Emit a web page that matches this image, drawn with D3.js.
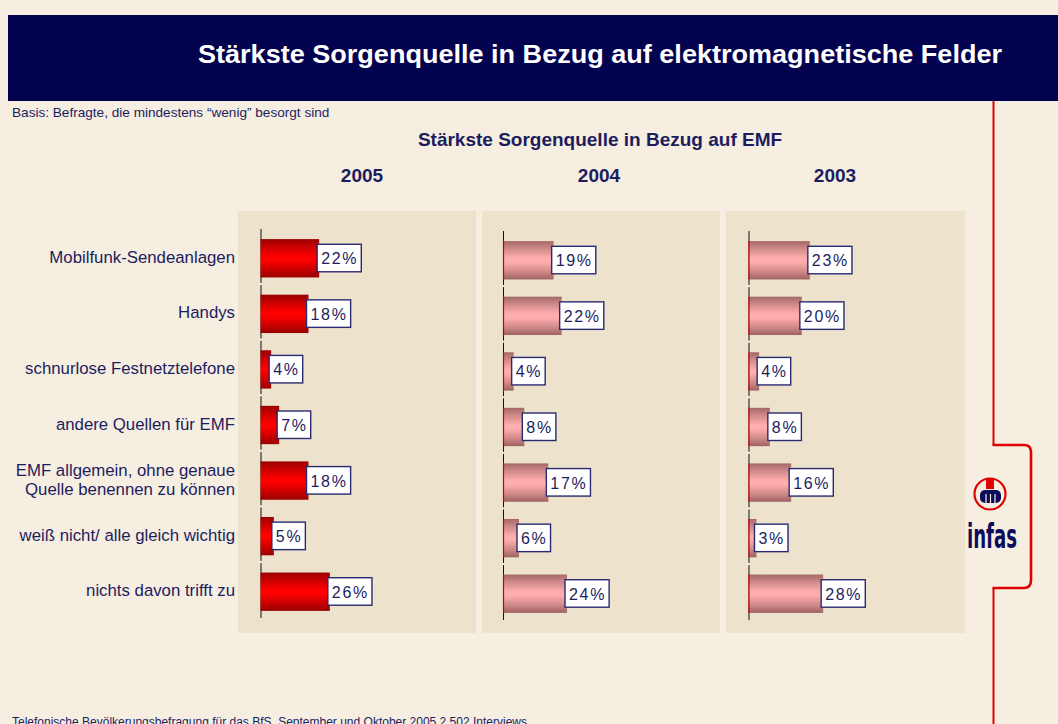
<!DOCTYPE html>
<html>
<head>
<meta charset="utf-8">
<script src="https://cdn.jsdelivr.net/npm/d3@7"></script>
<style>
  body { margin: 0; background: #f5eee1; }
  svg { display: block; font-family: "Liberation Sans", Arial, sans-serif; }
</style>
</head>
<body>
<div id="chart"></div>
<script>
let categories = [
    'Mobilfunk-Sendeanlagen',
    'Handys',
    'schnurlose Festnetztelefone',
    'andere Quellen für EMF',
    'EMF allgemein, ohne genaue\nQuelle benennen zu können',
    'weiß nicht/ alle gleich wichtig',
    'nichts davon trifft zu'
]
let years = ['2005', '2004', '2003']
let values2005 = [22, 18, 4, 7, 18, 5, 26]
let values2004 = [19, 22, 4, 8, 17, 6, 24]
let values2003 = [23, 20, 4, 8, 16, 3, 28]
let series = [values2005, values2004, values2003]

let navy = '#1d1d5e'
let W = 1058, H = 724

let svg = d3.select('#chart')
    .append('svg')
    .attr('width', W)
    .attr('height', H)

svg.append('rect').attr('width', W).attr('height', H).attr('fill', '#f5eee1')

// gradients
let defs = svg.append('defs')
function grad(id, stops) {
    let g = defs.append('linearGradient').attr('id', id)
        .attr('x1', 0).attr('y1', 0).attr('x2', 0).attr('y2', 1)
    stops.forEach(s => g.append('stop').attr('offset', s[0]).attr('stop-color', s[1]))
}
grad('redGrad', [[0, '#9a0000'], [0.2, '#c80000'], [0.45, '#ff0000'], [0.55, '#ff0000'], [0.8, '#c80000'], [1, '#980000']])
grad('pinkGrad', [[0, '#a46868'], [0.2, '#d08a8a'], [0.45, '#ffadad'], [0.55, '#ffadad'], [0.8, '#cf8888'], [1, '#9e6262']])

// header bar
svg.append('rect').attr('x', 8).attr('y', 15).attr('width', W - 8).attr('height', 86).attr('fill', '#02024f')
svg.append('text')
    .attr('x', 198).attr('y', 63)
    .attr('textLength', 804).attr('lengthAdjust', 'spacingAndGlyphs')
    .attr('fill', '#fff').attr('font-size', 26).attr('font-weight', 'bold')
    .text('Stärkste Sorgenquelle in Bezug auf elektromagnetische Felder')

svg.append('text')
    .attr('x', 12).attr('y', 117)
    .attr('fill', navy).attr('font-size', 13.6)
    .text('Basis: Befragte, die mindestens “wenig” besorgt sind')

svg.append('text')
    .attr('x', 600).attr('y', 146)
    .attr('text-anchor', 'middle')
    .attr('fill', navy).attr('font-size', 19).attr('font-weight', 'bold')
    .text('Stärkste Sorgenquelle in Bezug auf EMF')

// panels
let panels = [
    { x0: 238, x1: 476, axis: 260.5, dy: 0, fill: 'url(#redGrad)', red: false },
    { x0: 482, x1: 720, axis: 503, dy: 2, fill: 'url(#pinkGrad)', red: true },
    { x0: 726, x1: 965, axis: 748.5, dy: 2, fill: 'url(#pinkGrad)', red: true }
]
let yearX = [362, 599, 835]

let xScale = d3.scaleLinear().domain([0, 30]).range([0, 80])

panels.forEach((p, pi) => {
    svg.append('rect')
        .attr('x', p.x0).attr('y', 211)
        .attr('width', p.x1 - p.x0).attr('height', 422)
        .attr('fill', '#ede3cd')

    svg.append('text')
        .attr('x', yearX[pi]).attr('y', 182)
        .attr('text-anchor', 'middle')
        .attr('fill', navy).attr('font-size', 19).attr('font-weight', 'bold')
        .text(years[pi])

    let yScale = d3.scaleBand()
        .domain(d3.range(categories.length))
        .range([230.5 + p.dy, 619.5 + p.dy])
        .paddingInner(0.31)
        .paddingOuter(0.155)

    let g = svg.append('g').attr('transform', `translate(${p.axis},0)`)

    let yAxis = d3.axisLeft(yScale).tickSize(0).tickFormat('')
    let ax = g.append('g').attr('transform', 'translate(0,-2)').call(yAxis)
    ax.select('.domain').attr('stroke', '#111').attr('stroke-width', 1)

    // small light breaks on the axis between rows
    g.selectAll('.gap')
        .data(d3.range(1, categories.length))
        .enter().append('line')
        .attr('x1', -1.5).attr('x2', 1.5)
        .attr('y1', i => yScale(i) - yScale.step() * 0.155 - 2)
        .attr('y2', i => yScale(i) - yScale.step() * 0.155 - 2)
        .attr('stroke', '#f7f2e6').attr('stroke-width', 2)

    let data = series[pi]
    g.selectAll('.bar')
        .data(data)
        .enter().append('rect')
        .attr('class', 'bar')
        .attr('x', 0)
        .attr('y', (d, i) => yScale(i))
        .attr('width', d => xScale(d))
        .attr('height', yScale.bandwidth())
        .attr('fill', p.fill)

    if (p.red) {
        g.selectAll('.edge')
            .data(data)
            .enter().append('line')
            .attr('x1', 0.5).attr('x2', 0.5)
            .attr('y1', (d, i) => yScale(i))
            .attr('y2', (d, i) => yScale(i) + yScale.bandwidth())
            .attr('stroke', '#c00000').attr('stroke-width', 1.2)
    }

    let lab = g.selectAll('.lab')
        .data(data)
        .enter().append('g')
        .attr('transform', (d, i) => `translate(${xScale(d) - 2},${yScale(i) + yScale.bandwidth() / 2 - 14})`)
    let box = lab.append('rect')
        .attr('height', 27.5)
        .attr('fill', '#fff')
        .attr('stroke', '#2a2a72').attr('stroke-width', 1.4)
    let txt = lab.append('text')
        .attr('x', 4).attr('y', 20)
        .attr('fill', navy).attr('font-size', 16)
        .attr('letter-spacing', 1.7)
        .text(d => d + '%')
    txt.each(function (d, i) {
        let w = this.getComputedTextLength()
        d3.select(box.nodes()[i]).attr('width', w + 7)
    })

    if (pi === 0) {
        svg.selectAll('.cat')
            .data(categories)
            .enter().append('text')
            .attr('class', 'cat')
            .attr('text-anchor', 'end')
            .attr('fill', navy).attr('font-size', 16.8)
            .each(function (d, i) {
                let lines = d.split('\n')
                let cy = yScale(i) + yScale.bandwidth() / 2 - 1.5
                let t = d3.select(this)
                lines.forEach((l, li) => {
                    t.append('tspan')
                        .attr('x', 235)
                        .attr('y', cy + 6 + (li - (lines.length - 1) / 2) * 19)
                        .text(l)
                })
            })
    }
})

// red bracket on the right
let red = '#e00000'
svg.append('path')
    .attr('d', 'M993.5,101 V445')
    .attr('stroke', red).attr('stroke-width', 2).attr('fill', 'none')
svg.append('path')
    .attr('d', 'M992.5,445 H1024 Q1031,445 1031,452 V580 Q1031,588 1024,588 H992.5')
    .attr('stroke', red).attr('stroke-width', 2.6).attr('fill', 'none')
svg.append('path')
    .attr('d', 'M993.5,588 V724')
    .attr('stroke', red).attr('stroke-width', 2).attr('fill', 'none')

// infas logo
let logo = svg.append('g')
logo.append('circle').attr('cx', 990).attr('cy', 494).attr('r', 15.5)
    .attr('fill', 'none').attr('stroke', red).attr('stroke-width', 2.2)
logo.append('rect').attr('x', 980).attr('y', 490).attr('width', 21).attr('height', 13).attr('rx', 5)
    .attr('fill', '#0c0c5a')
logo.selectAll('.fig').data([986, 990.5, 995]).enter().append('line')
    .attr('x1', d => d).attr('x2', d => d).attr('y1', 494).attr('y2', 503)
    .attr('stroke', '#f5eee1').attr('stroke-width', 1.2)
logo.append('rect').attr('x', 986).attr('y', 479).attr('width', 8).attr('height', 10)
    .attr('fill', red)
logo.append('text')
    .attr('x', 967).attr('y', 548)
    .attr('textLength', 50).attr('lengthAdjust', 'spacingAndGlyphs')
    .attr('fill', '#0c0c5a').attr('font-size', 34).attr('font-weight', 'bold')
    .attr('font-family', '"Liberation Sans Narrow", "DejaVu Sans Condensed", sans-serif')
    .text('infas')

svg.append('text')
    .attr('x', 12).attr('y', 726)
    .attr('fill', navy).attr('font-size', 12)
    .text('Telefonische Bevölkerungsbefragung für das BfS, September und Oktober 2005 2.502 Interviews')
</script>
</body>
</html>
